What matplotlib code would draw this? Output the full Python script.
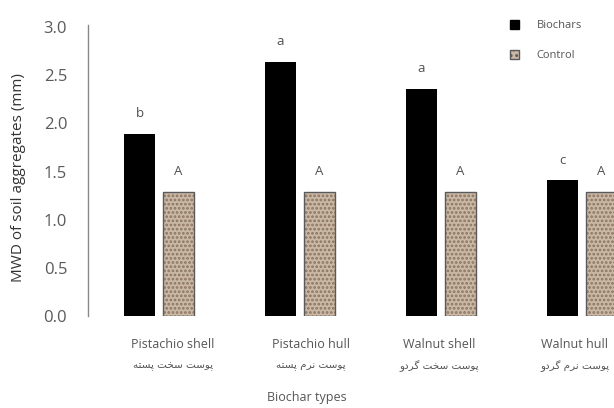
import matplotlib
matplotlib.use('Agg')
import matplotlib.pyplot as plt
from matplotlib.patches import Patch
import numpy as np

plt.rcParams['font.family'] = ['Open Sans', 'DejaVu Sans']

categories = ['Pistachio shell', 'Pistachio hull', 'Walnut shell', 'Walnut hull']
categories_fa = ['پوست سخت پسته', 'پوست نرم پسته', 'پوست سخت گردو', 'پوست نرم گردو']
biochar = [1.89, 2.64, 2.36, 1.41]
control = [1.29, 1.29, 1.29, 1.29]
biochar_letters = ['b', 'a', 'a', 'c']
control_letters = ['A', 'A', 'A', 'A']
yticks = [0.0, 0.5, 1.0, 1.5, 2.0, 2.5, 3.0]

# contextual forms (isolated, final, initial, medial) for the letters used
FORMS = {
    'پ': ('\ufb56', '\ufb57', '\ufb58', '\ufb59'),
    'و': ('\ufeed', '\ufeee', '\ufeed', '\ufeee'),
    'س': ('\ufeb1', '\ufeb2', '\ufeb3', '\ufeb4'),
    'ت': ('\ufe95', '\ufe96', '\ufe97', '\ufe98'),
    'خ': ('\ufea5', '\ufea6', '\ufea7', '\ufea8'),
    'ه': ('\ufee9', '\ufeea', '\ufeeb', '\ufeec'),
    'ن': ('\ufee5', '\ufee6', '\ufee7', '\ufee8'),
    'ر': ('\ufead', '\ufeae', '\ufead', '\ufeae'),
    'م': ('\ufee1', '\ufee2', '\ufee3', '\ufee4'),
    'گ': ('\ufb92', '\ufb93', '\ufb94', '\ufb95'),
    'د': ('\ufea9', '\ufeaa', '\ufea9', '\ufeaa'),
}
NO_FORWARD = set('ورد')


def shape_fa(text):
    out = []
    for word in text.split(' '):
        chars = []
        for i, c in enumerate(word):
            prev_joins = i > 0 and word[i - 1] not in NO_FORWARD
            next_joins = i < len(word) - 1 and c not in NO_FORWARD
            idx = {(False, False): 0, (True, False): 1,
                   (False, True): 2, (True, True): 3}[(prev_joins, next_joins)]
            chars.append(FORMS[c][idx])
        out.append(''.join(chars[::-1]))
    return ' '.join(out[::-1])


fig = plt.figure(figsize=(6.14, 4.08), dpi=100)
ax = fig.add_axes([0.1433, 0.2255, 0.8567, 0.7083])

x = np.arange(len(categories))
w = 0.22
off = 0.138
txt = '#505050'
ctl_face = '#c9b8a6'

ax.bar(x - off, biochar, w, color='black')
plt.rcParams['hatch.linewidth'] = 1.3
ax.bar(x + off, control, w, color=ctl_face, edgecolor='#8c735e', hatch='....', linewidth=0)
ax.bar(x + off, control, w, fill=False, edgecolor='#5a5a5a', linewidth=1.0)

for xi, v, s in zip(x, biochar, biochar_letters):
    ax.text(xi - off, v + 0.14, s, ha='center', va='bottom', fontsize=9.5, color=txt)
for xi, v, s in zip(x, control, control_letters):
    ax.text(xi + off, v + 0.14, s, ha='center', va='bottom', fontsize=9.5, color=txt)

ax.set_xlim(-0.504, 3.227)
ax.set_ylim(0, 3.0)
ax.set_yticks(yticks)
ax.set_yticklabels(['%.1f' % t for t in yticks])
ax.tick_params(axis='y', length=0, pad=15, labelsize=12, labelcolor='#5a5a5a')
ax.set_xticks([])
for s in ['top', 'right', 'bottom']:
    ax.spines[s].set_visible(False)
ax.spines['left'].set_color('#888888')
ax.spines['left'].set_linewidth(1.0)
ax.spines['left'].set_bounds(0, 3.02)

ax.set_ylabel('MWD of soil aggregates (mm)', fontsize=11, color='#333333')
ax.yaxis.set_label_coords(-0.118, 0.478)

# category captions sit a little off the group centres
label_shift = [0.1, 0.08, -0.01, -0.05]
for xi, dx, en, fa in zip(x, label_shift, categories, categories_fa):
    ax.text(xi + dx, -0.3, en, ha='center', va='center', fontsize=9, color='#555555')
    ax.text(xi + dx, -0.52, shape_fa(fa), ha='center', va='center', fontsize=7.5,
            color='#555555', family=['DejaVu Sans'])
fig.text(307 / 614, 1 - 397 / 408, 'Biochar types', ha='center', va='center',
         fontsize=9, color='#555555')

handles = [Patch(facecolor='black', edgecolor='black'),
           Patch(facecolor=ctl_face, edgecolor='#5a5a5a', hatch='...')]
fig.legend(handles, ['Biochars', 'Control'], loc='upper left',
           bbox_to_anchor=(500 / 614, 1 - 10 / 408), frameon=False,
           fontsize=8, labelcolor='#555555', handlelength=0.8, handleheight=0.8,
           labelspacing=1.7, handletextpad=1.6)

fig.savefig('out.png', dpi=100)
